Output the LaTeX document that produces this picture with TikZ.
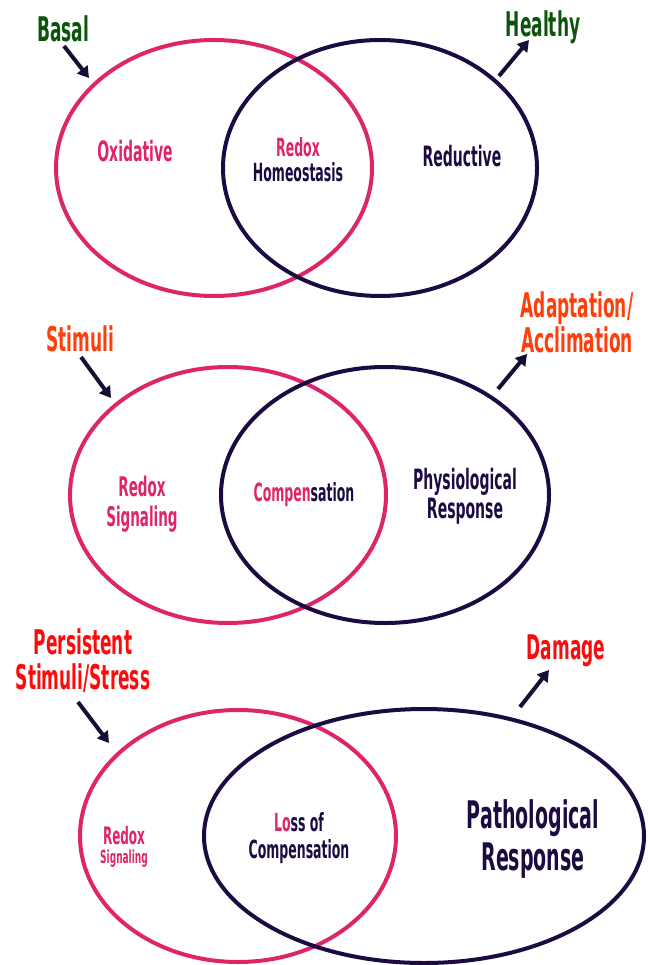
\documentclass[tikz,border=0pt]{standalone}
\usepackage{xcolor}
\usepackage{fontspec}
\setmainfont{DejaVu Sans}[FakeStretch=0.5]
\usetikzlibrary{positioning,calc,arrows.meta}

\definecolor{oxpink}{RGB}{222,37,106}
\definecolor{rednavy}{RGB}{28,10,66}
\definecolor{basalgreen}{RGB}{12,84,12}
\definecolor{stimorange}{RGB}{255,62,10}
\definecolor{stressred}{RGB}{250,12,12}
\definecolor{arrownavy}{RGB}{20,16,52}

\newcommand{\fsz}[2]{\bfseries\fontsize{#1}{#2}\selectfont}

\tikzset{
    pinkring/.style={draw=oxpink, line width=4pt},
    navyring/.style={draw=rednavy, line width=4pt},
    outerlabel/.style={font=\fsz{34}{35}, align=center, inner sep=0pt},
    innerlabel/.style={font=\fsz{25}{25}, align=center, inner sep=0pt},
    fatarrow/.style={draw=arrownavy, line width=4pt, -{Triangle[length=11pt, width=13pt]}}
}

\begin{document}
\begin{tikzpicture}[x=1pt, y=-1pt]
    \useasboundingbox (0,0) rectangle (647,965);

    % Basal state
    \draw[pinkring] (214,168) ellipse [x radius=158pt, y radius=128pt];
    \draw[navyring] (380,168) ellipse [x radius=157pt, y radius=128pt];
    \node[outerlabel, text=basalgreen] (basal) at (63,29) {Basal};
    \node[outerlabel, text=basalgreen] (healthy) at (543,27) {Healthy};
    \node[innerlabel, text=oxpink, font=\fsz{28}{28}] (oxidative) at (135,151) {Oxidative};
    \node[innerlabel, text=rednavy] (homeostasis) at (298,160) {{\color{oxpink}Redox}\\Homeostasis};
    \node[innerlabel, text=rednavy, font=\fsz{28}{28}] (reductive) at (462,156) {Reductive};
    \coordinate (basal-tail) at (64,46);
    \coordinate (basal-tip) at (89,78);
    \coordinate (healthy-tail) at (499,76);
    \coordinate (healthy-tip) at (529,40);
    \draw[fatarrow] (basal-tail) -- (basal-tip);
    \draw[fatarrow] (healthy-tail) -- (healthy-tip);

    % Stimuli state
    \draw[pinkring] (228,495) ellipse [x radius=158pt, y radius=128pt];
    \draw[navyring] (385,495) ellipse [x radius=164pt, y radius=128pt];
    \node[outerlabel, text=stimorange] (stimuli) at (80,339) {Stimuli};
    \node[outerlabel, text=stimorange] (adaptation) at (577,322) {Adaptation/\\Acclimation};
    \node[innerlabel, text=oxpink, font=\fsz{27}{30}] (signaling) at (142,504) {Redox\\Signaling};
    \node[innerlabel, text=rednavy] (compensation) at (304,495) {{\color{oxpink}Compen}sation};
    \node[innerlabel, text=rednavy, font=\fsz{28}{29}] (physiological) at (465,496) {Physiological\\Response};
    \coordinate (stimuli-tail) at (81,357);
    \coordinate (stimuli-tip) at (111,398);
    \coordinate (adaptation-tail) at (498,389);
    \coordinate (adaptation-tip) at (527,354);
    \draw[fatarrow] (stimuli-tail) -- (stimuli-tip);
    \draw[fatarrow] (adaptation-tail) -- (adaptation-tip);

    % Persistent stress state
    \draw[pinkring] (238,836) ellipse [x radius=158pt, y radius=126pt];
    \draw[navyring] (424,836) ellipse [x radius=220pt, y radius=127pt];
    \node[outerlabel, text=stressred] (persistent) at (83,661) {Persistent\\Stimuli/Stress};
    \node[outerlabel, text=stressred] (damage) at (566,651) {Damage};
    \node[innerlabel, text=oxpink, font=\fsz{24}{24}] (redox-low) at (124,836) {Redox};
    \node[innerlabel, text=oxpink, font=\fsz{18}{18}] (signaling-low) at (124,859) {Signaling};
    \node[innerlabel, text=rednavy, font=\fsz{25}{27}] (losscomp) at (299,838) {{\color{oxpink}Lo}ss of\\Compensation};
    \node[innerlabel, text=rednavy, font=\fsz{38}{42}] (pathological) at (533,839) {Pathological\\Response};
    \coordinate (persistent-tail) at (78,702);
    \coordinate (persistent-tip) at (109,743);
    \coordinate (damage-tail) at (520,707);
    \coordinate (damage-tip) at (549,670);
    \draw[fatarrow] (persistent-tail) -- (persistent-tip);
    \draw[fatarrow] (damage-tail) -- (damage-tip);
\end{tikzpicture}
\end{document}
